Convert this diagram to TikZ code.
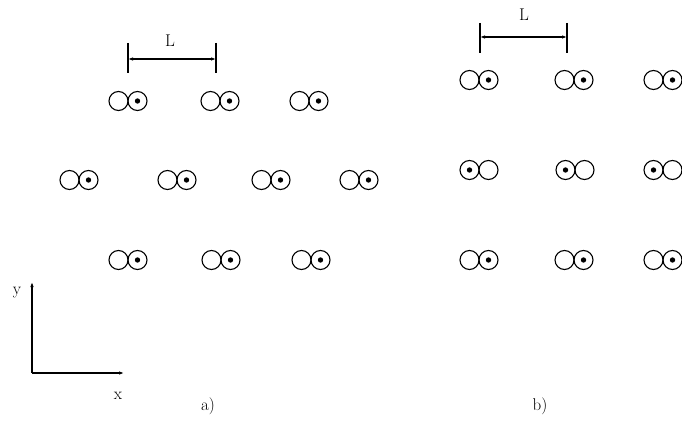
\documentclass[tikz,border=0pt]{standalone}
\usetikzlibrary{arrows.meta}
\tikzset{
  lbl/.style={font=\fontsize{17}{19}\selectfont, inner sep=0pt},
  ln/.style={line width=1.1pt},
  arr/.style={ln, -{Latex[length=5pt,width=3.5pt]}},
  darr/.style={ln, {Latex[length=5pt,width=3.5pt]}-{Latex[length=5pt,width=3.5pt]}},
  pics/dimerR/.style={code={
    \draw[ln] (-9.5,0) circle (9.5);
    \draw[ln] (9.5,0) circle (9.5);
    \fill (9.5,0) circle (2.7);
  }},
  pics/dimerL/.style={code={
    \draw[ln] (-9.5,0) circle (9.5);
    \draw[ln] (9.5,0) circle (9.5);
    \fill (-9.5,0) circle (2.7);
  }}
}
\begin{document}
\begin{tikzpicture}[x=1pt,y=-1pt]
\useasboundingbox (0,0) rectangle (682,422);
% panel a
\foreach \x in {128,220,309} \pic at (\x,101) {dimerR};
\foreach \x in {79,177,271,359} \pic at (\x,180) {dimerR};
\foreach \x in {128,221,311} \pic at (\x,260) {dimerR};
\coordinate (aL1) at (128,59);
\coordinate (aL2) at (216,59);
\draw[ln] (128,43) -- (128,73);
\draw[ln] (216,43) -- (216,73);
\draw[darr] (aL1) -- (aL2);
\node[lbl] (La) at (170,41) {L};
% panel b
\foreach \x in {479,574,663} \pic at (\x,80) {dimerR};
\foreach \x in {479,575,663} \pic at (\x,170) {dimerL};
\foreach \x in {479,574,663} \pic at (\x,260) {dimerR};
\coordinate (bL1) at (480,37);
\coordinate (bL2) at (567,37);
\draw[ln] (480,23) -- (480,53);
\draw[ln] (567,23) -- (567,53);
\draw[darr] (bL1) -- (bL2);
\node[lbl] (Lb) at (524,15) {L};
% axes
\coordinate (O) at (32,373);
\coordinate (Y) at (32,282);
\coordinate (X) at (124,373);
\draw[arr] (O) -- (Y);
\draw[arr] (O) -- (X);
\node[lbl] (ylab) at (17,293) {y};
\node[lbl] (xlab) at (118,396) {x};
\node[lbl] (a) at (208,406) {a)};
\node[lbl] (b) at (540,406) {b)};
\end{tikzpicture}
\end{document}
